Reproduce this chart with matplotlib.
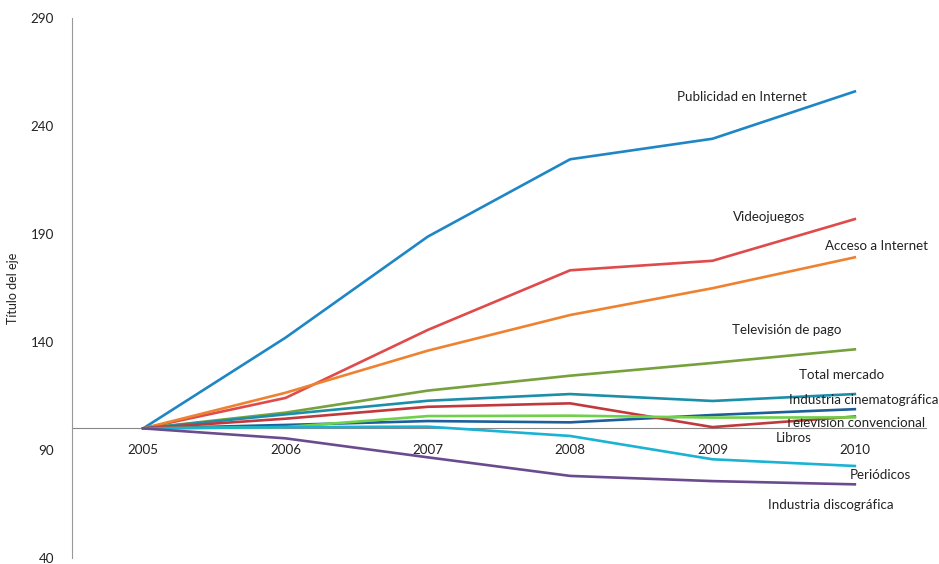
import matplotlib.pyplot as plt

plt.rcParams['font.family'] = ['Lato', 'DejaVu Sans']

# Categories
years = ['2005', '2006', '2007', '2008', '2009', '2010']

# Series values (index, 2005 = 100)
publicidad_internet = [100, 142, 188.8, 224.6, 234.1, 256]
videojuegos = [100, 114.1, 145.6, 173.2, 177.6, 196.9]
acceso_internet = [100, 116.5, 136, 152.5, 164.9, 179.2]
tv_pago = [100, 107.3, 117.5, 124.4, 130.3, 136.6]
total_mercado = [100, 106.5, 112.8, 115.9, 112.7, 115.9]
ind_cine = [100, 101.6, 103.4, 102.8, 106.2, 108.9]
tv_convencional = [100, 104.5, 110, 111.6, 100.6, 105.5]
libros = [100, 100.6, 105.7, 105.9, 105, 105.1]
periodicos = [100, 100.6, 100.8, 96.5, 85.7, 82.6]
ind_disco = [100, 95.4, 86.6, 78, 75.6, 74.1]

series = [
    ('Publicidad en Internet', publicidad_internet, '#1f86c6'),
    ('Videojuegos', videojuegos, '#df4a4b'),
    ('Acceso a Internet', acceso_internet, '#ee8230'),
    ('Televisión de pago', tv_pago, '#76a13c'),
    ('Total mercado', total_mercado, '#1b8faa'),
    ('Industria cinematográfica', ind_cine, '#1d5f99'),
    ('Televisión convencional', tv_convencional, '#c1393c'),
    ('Libros', libros, '#6fd04a'),
    ('Periódicos', periodicos, '#1ab3d3'),
    ('Industria discográfica', ind_disco, '#6a4c8e'),
]

# label positions (x index, y value)
label_pos = {
    'Publicidad en Internet': (4.21, 253.4),
    'Videojuegos': (4.40, 198.0),
    'Acceso a Internet': (5.15, 184.6),
    'Televisión de pago': (4.52, 145.6),
    'Total mercado': (4.91, 124.5),
    'Industria cinematográfica': (5.06, 113.3),
    'Televisión convencional': (5.0, 102.5),
    'Libros': (4.57, 95.6),
    'Periódicos': (5.18, 78.4),
    'Industria discográfica': (4.83, 64.6),
}

fig = plt.figure(figsize=(9.39, 5.64), dpi=100)
ax = fig.add_axes([72 / 939, 1 - 558 / 564, (926 - 72) / 939, 540 / 564])

x = list(range(len(years)))
for name, vals, color in series:
    ax.plot(x, vals, color=color, lw=1.9, zorder=3)
    lx, ly = label_pos[name]
    ax.text(lx, ly, name, ha='center', va='center', fontsize=9.6, color='#222222')

ax.set_xlim(-0.5, 5.5)
ax.set_ylim(40, 290)
ax.set_yticks([40, 90, 140, 190, 240, 290])
ax.set_xticks(x)
ax.set_xticklabels(years)

for side in ['top', 'right']:
    ax.spines[side].set_visible(False)
ax.spines['left'].set_color('#999999')
ax.spines['bottom'].set_color('#888888')
ax.spines['bottom'].set_position(('data', 100))
ax.spines['bottom'].set_zorder(2)

ax.tick_params(axis='both', length=0, labelsize=9.6, colors='#222222')
ax.tick_params(axis='x', pad=11)
ax.tick_params(axis='y', pad=13)
ax.set_ylabel('Título del eje', fontsize=9, color='#222222', labelpad=8)

fig.savefig('out.png', dpi=100)
